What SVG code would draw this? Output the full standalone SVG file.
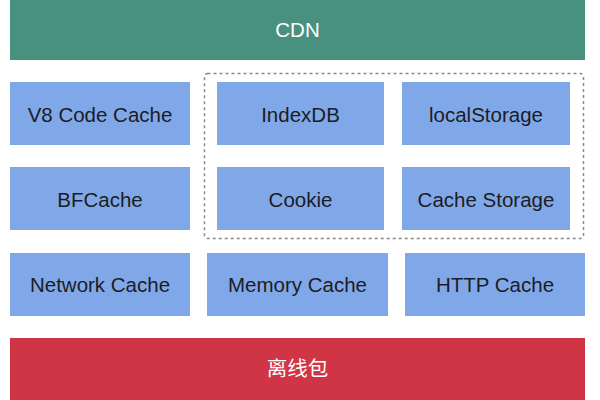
<svg xmlns="http://www.w3.org/2000/svg" width="600" height="400" viewBox="0 0 600 400">
<style>
.box{fill:#80a8e8}
.t{font-family:"Liberation Sans","Noto Sans CJK SC",sans-serif;font-size:20.5px;text-anchor:middle;fill:#1c1c24}
.w{fill:#ffffff}
</style>
<rect width="600" height="400" fill="#ffffff"/>
<g id="cdn"><rect x="10" y="0" width="575" height="60" fill="#48917f"/><text class="t w" x="297.5" y="37">CDN</text></g>
<g id="connectors"><rect x="204.5" y="73.5" width="379" height="165" rx="3" fill="none" stroke="#8a8a8a" stroke-width="1.5" stroke-dasharray="3,3"/></g>
<g id="v8"><rect class="box" x="10" y="82" width="180" height="63"/><text class="t" x="100" y="122">V8 Code Cache</text></g>
<g id="indexdb"><rect class="box" x="217" y="82" width="167" height="63"/><text class="t" x="300.5" y="122">IndexDB</text></g>
<g id="localstorage"><rect class="box" x="402" y="82" width="168" height="63"/><text class="t" x="486" y="122">localStorage</text></g>
<g id="bfcache"><rect class="box" x="10" y="167" width="180" height="63"/><text class="t" x="100" y="207">BFCache</text></g>
<g id="cookie"><rect class="box" x="217" y="167" width="167" height="63"/><text class="t" x="300.5" y="207">Cookie</text></g>
<g id="cachestorage"><rect class="box" x="402" y="167" width="168" height="63"/><text class="t" x="486" y="207">Cache Storage</text></g>
<g id="network"><rect class="box" x="10" y="253" width="180" height="63"/><text class="t" x="100" y="292">Network Cache</text></g>
<g id="memory"><rect class="box" x="207" y="253" width="181" height="63"/><text class="t" x="297.5" y="292">Memory Cache</text></g>
<g id="http"><rect class="box" x="405" y="253" width="180" height="63"/><text class="t" x="495" y="292">HTTP Cache</text></g>
<g id="offline"><rect x="10" y="338" width="575" height="62" fill="#d03546"/><text class="t w" x="297.5" y="376">离线包</text></g>
</svg>
